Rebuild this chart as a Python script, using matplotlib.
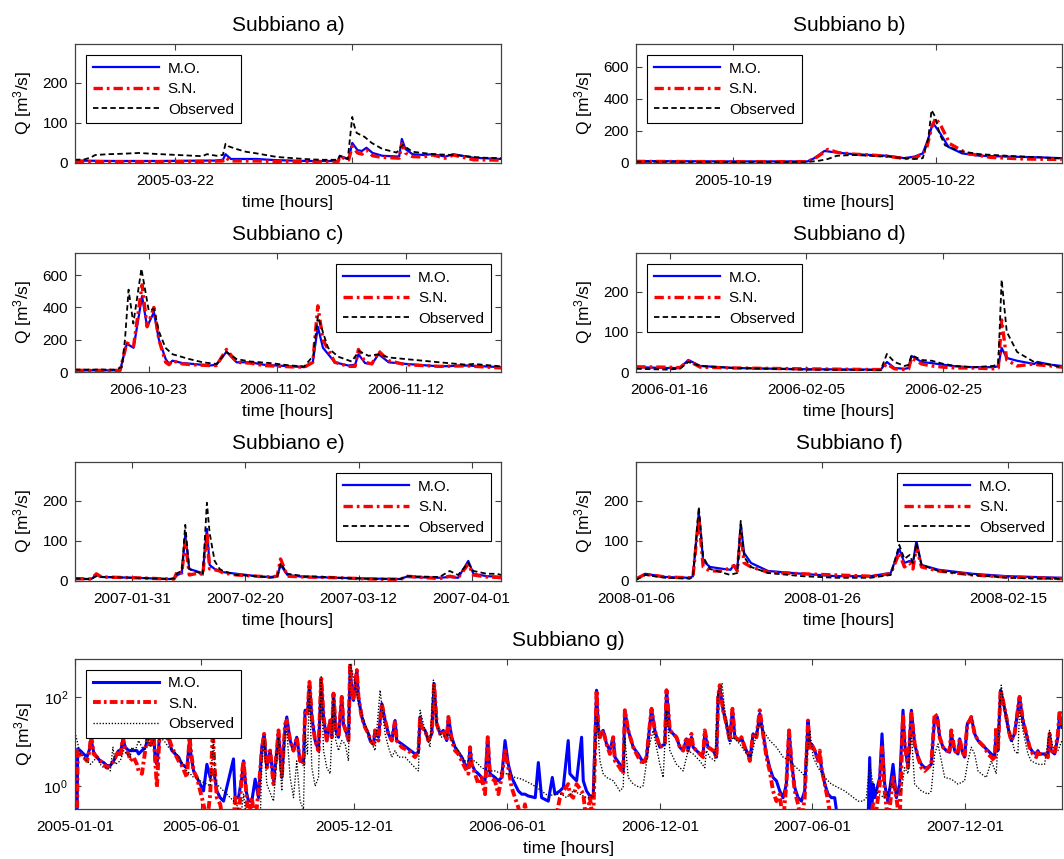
import numpy as np
import pandas as pd
import matplotlib
matplotlib.use("Agg")
import matplotlib.pyplot as plt
from matplotlib.ticker import NullLocator

plt.rcParams['font.family'] = ['Liberation Sans', 'DejaVu Sans']
plt.rcParams['mathtext.fontset'] = 'custom'
plt.rcParams['mathtext.rm'] = 'Liberation Sans'
plt.rcParams['mathtext.it'] = 'Liberation Sans:italic'
plt.rcParams['mathtext.bf'] = 'Liberation Sans:bold'
plt.rcParams['mathtext.sf'] = 'Liberation Sans'

LABELS = ['M.O.', 'S.N.', 'Observed']

# ---------------- Panel a ----------------
a_base = '2005-03-10'
a_xlim = ('2005-03-10 17:00', '2005-04-27 19:00')
a_xticks = ['2005-03-22', '2005-04-11']
a_ymax = 298
a_yticks = [0, 100, 200]
a_obs_day = [0.7, 1.8, 2.5, 3.0, 4.5, 6.0, 7.9, 9.5, 11.3, 13.2, 15.1, 15.6, 16.7, 17.4, 17.7, 18.0, 18.9, 20.0,
             21.2, 23.5, 26.6, 28.5, 30.4, 30.6, 31.1, 31.5, 32.0, 32.2, 32.5, 33.4, 34.2, 35.4, 37.0, 37.5, 37.7,
             38.8, 41.1, 43.4, 44.5, 45.7, 47.0, 48.8]
a_obs_q = [8, 9, 14, 20, 22, 23, 25, 23, 21, 19, 17, 22, 18, 20, 48, 42, 35, 28, 24, 15, 10, 8, 8, 18, 12, 10,
           115, 95, 75, 65, 50, 35, 26, 40, 45, 28, 22, 20, 18, 15, 13, 12]
a_mo_day = [0.7, 5, 10, 15.5, 16.5, 17.4, 17.7, 18.3, 21.2, 23.5, 27, 30.4, 30.6, 31.3, 31.6, 32.0, 32.6, 33.1,
            33.6, 34.3, 35.4, 37.3, 37.6, 38.0, 38.8, 40.0, 41.1, 42.5, 43.4, 45.7, 48.8]
a_mo_q = [6, 5, 5, 6, 6, 8, 22, 10, 10, 7, 5, 5, 18, 12, 10, 50, 32, 30, 38, 25, 18, 16, 60, 35, 22, 20, 22, 16,
          22, 13, 10]
a_sn_day = [0.7, 5, 10, 15.5, 17.4, 17.7, 18.3, 21.2, 23.5, 27, 30.4, 30.6, 31.3, 31.6, 32.0, 32.6, 33.1, 33.6,
            34.3, 35.4, 37.3, 37.6, 38.0, 38.8, 40.0, 41.1, 42.5, 43.4, 45.7, 48.8]
a_sn_q = [4, 3, 3, 4, 5, 13, 5, 5, 4, 3, 3, 16, 10, 8, 42, 25, 22, 32, 18, 14, 12, 48, 25, 16, 15, 20, 12, 20, 8, 7]

# ---------------- Panel b ----------------
b_base = '2005-10-17'
b_xlim = ('2005-10-17 13:40', '2005-10-23 20:30')
b_xticks = ['2005-10-19', '2005-10-22']
b_ymax = 745
b_yticks = [0, 200, 400, 600]
b_obs_day = [0.57, 2, 3.1, 3.28, 3.4, 3.53, 3.78, 4.03, 4.28, 4.53, 4.68, 4.8, 4.88, 4.93, 4.98, 5.05, 5.13, 5.33,
             5.64, 6.04, 6.54, 6.85]
b_obs_q = [8, 6, 6, 15, 25, 45, 50, 45, 40, 30, 25, 30, 150, 330, 290, 180, 110, 75, 55, 45, 35, 28]
b_mo_day = [0.57, 2, 3.1, 3.2, 3.35, 3.53, 3.78, 4.03, 4.28, 4.53, 4.68, 4.8, 4.88, 4.95, 5.05, 5.18, 5.38, 5.64,
            6.04, 6.54, 6.85]
b_mo_q = [12, 10, 10, 30, 75, 65, 55, 50, 45, 30, 40, 60, 150, 250, 190, 100, 60, 45, 40, 35, 30]
b_sn_day = [0.57, 2, 3.1, 3.25, 3.4, 3.55, 3.78, 4.03, 4.28, 4.53, 4.7, 4.85, 4.93, 4.99, 5.07, 5.2, 5.45, 5.8,
            6.3, 6.85]
b_sn_q = [10, 8, 8, 40, 85, 65, 55, 50, 42, 28, 32, 80, 220, 280, 230, 120, 60, 35, 25, 22]

# ---------------- Panel c ----------------
c_base = '2006-10-17'
c_xlim = ('2006-10-17 06:15', '2006-11-19 10:00')
c_xticks = ['2006-10-23', '2006-11-02', '2006-11-12']
c_ymax = 740
c_yticks = [0, 200, 400, 600]
c_obs_day = [0.26, 3.37, 3.90, 4.15, 4.43, 4.80, 5.43, 6.00, 6.40, 6.80, 7.30, 7.85, 9.16, 10.2, 11.27, 12.05,
             12.84, 13.9, 15.48, 17.05, 18.11, 18.8, 19.16, 19.95, 20.74, 21.79, 22.37, 23.1, 23.89, 24.68, 26.0,
             28.63, 30.73, 31.26, 33.42]
c_obs_q = [15, 15, 30, 200, 510, 300, 640, 380, 390, 250, 150, 110, 80, 60, 50, 125, 80, 65, 55, 40, 35, 100,
           345, 150, 95, 65, 130, 100, 110, 90, 80, 60, 45, 50, 35]
c_mod_day = [0.26, 3.77, 4.29, 4.82, 5.48, 5.87, 6.40, 6.79, 7.32, 7.58, 7.85, 8.63, 9.42, 10.74, 11.27, 12.05,
             12.84, 13.9, 14.95, 17.05, 18.11, 18.77, 19.16, 19.56, 20.48, 21.53, 22.06, 22.32, 22.84, 23.37,
             23.89, 24.68, 26.0, 28.63, 30.73, 33.42]
c_mo_q = [10, 10, 175, 150, 470, 280, 370, 200, 80, 50, 70, 55, 50, 40, 45, 125, 60, 60, 45, 35, 30, 60, 280,
          150, 60, 40, 45, 110, 55, 50, 110, 60, 50, 35, 40, 30]
c_sn_q = [10, 10, 180, 160, 540, 280, 400, 200, 60, 45, 70, 50, 45, 40, 40, 140, 60, 55, 40, 32, 30, 60, 410,
          200, 60, 35, 35, 140, 60, 50, 130, 70, 45, 35, 38, 25]

# ---------------- Panel d ----------------
d_base = '2006-01-11'
d_xlim = ('2006-01-11 02:00', '2006-03-14 11:00')
d_xticks = ['2006-01-16', '2006-02-05', '2006-02-25']
d_ymax = 298
d_yticks = [0, 100, 200]
d_day = [0.12, 4.50, 6.51, 7.75, 9.49, 14.49, 24.46, 35.92, 36.82, 37.92, 39.42, 40.0, 40.42, 41.91, 43.40,
         45.15, 46.89, 49.39, 52.38, 53.13, 53.62, 54.37, 55.88, 58.37, 58.87, 60.86, 62.46]
d_obs_q = [8, 6, 8, 25, 15, 10, 6, 5, 45, 25, 15, 18, 42, 30, 28, 20, 15, 12, 15, 20, 230, 100, 50, 25, 22, 18, 12]
d_mo_q = [12, 10, 10, 30, 15, 10, 7, 6, 25, 10, 8, 10, 40, 25, 22, 18, 14, 12, 12, 14, 60, 35, 28, 20, 25, 18, 15]
d_sn_q = [13, 12, 11, 28, 12, 10, 8, 6, 20, 8, 6, 8, 35, 20, 15, 12, 10, 10, 8, 10, 130, 30, 15, 20, 18, 15, 12]

# ---------------- Panel e ----------------
e_base = '2007-01-20'
e_xlim = ('2007-01-20 20:00', '2007-04-06 05:00')
e_xticks = ['2007-01-31', '2007-02-20', '2007-03-12', '2007-04-01']
e_ymax = 298
e_yticks = [0, 100, 200]
e_day = [0.83, 3.71, 4.61, 5.50, 11.48, 17.46, 18.36, 18.96, 19.74, 20.34, 21.05, 22.85, 23.44, 24.17, 24.65,
         25.54, 26.43, 27.03, 29.42, 33.01, 35.42, 36.61, 37.21, 38.41, 41.41, 45.0, 47.39, 53.37, 58.45, 59.35,
         65.33, 67.12, 68.62, 70.42, 71.32, 73.71, 75.5, 76.22]
e_obs_q = [6, 5, 12, 10, 8, 5, 6, 20, 25, 140, 30, 20, 15, 195, 120, 50, 30, 25, 15, 12, 8, 10, 45, 18, 12, 10,
           8, 5, 5, 12, 10, 25, 15, 45, 25, 18, 18, 15]
e_mo_q = [5, 5, 15, 10, 8, 5, 6, 15, 20, 115, 30, 22, 20, 130, 40, 30, 25, 22, 18, 12, 10, 12, 40, 15, 10, 9, 8,
          6, 5, 10, 8, 10, 8, 50, 18, 12, 11, 10]
e_sn_q = [6, 5, 18, 10, 8, 5, 5, 25, 20, 100, 15, 20, 15, 120, 30, 28, 25, 20, 15, 12, 10, 12, 55, 12, 10, 9, 8,
          5, 4, 12, 6, 12, 8, 42, 15, 10, 9, 8]

# ---------------- Panel f ----------------
f_base = '2008-01-06'
f_xlim = ('2008-01-06 00:00', '2008-02-20 19:00')
f_xticks = ['2008-01-06', '2008-01-26', '2008-02-15']
f_ymax = 298
f_yticks = [0, 100, 200]
f_day = [0, 0.99, 3.18, 5.76, 6.12, 6.75, 7.22, 7.95, 9.42, 10.16, 10.53, 10.89, 11.26, 11.62, 12.36, 14.19,
         17.86, 21.52, 25.19, 27.38, 28.30, 28.85, 29.41, 29.77, 30.14, 30.69, 32.52, 36.19, 39.85, 45.79]
f_obs_q = [3, 15, 8, 6, 10, 185, 60, 30, 20, 15, 18, 20, 150, 60, 35, 20, 12, 8, 8, 15, 90, 55, 65, 45, 95, 40,
           25, 15, 8, 5]
f_mo_q = [5, 18, 10, 8, 12, 170, 50, 35, 30, 28, 40, 30, 140, 70, 45, 25, 18, 12, 12, 20, 80, 45, 50, 45, 100,
          40, 28, 18, 12, 8]
f_sn_q = [5, 17, 10, 8, 10, 160, 35, 25, 25, 35, 38, 25, 125, 45, 35, 22, 18, 15, 12, 18, 70, 35, 45, 30, 85, 35,
          25, 15, 10, 6]

# ---------------- Panel g (log scale, whole record) ----------------
g_base = '2005-01-01'
g_xlim = ('2005-01-01', '2008-03-25 12:00')
g_xticks = ['2005-01-01', '2005-06-01', '2005-12-01', '2006-06-01', '2006-12-01', '2007-06-01', '2007-12-01']
g_ylim = (0.306, 726)
g_yticks = [1, 100]
g_yticklabels = ['$10^0$', '$10^2$']
g_day = [
    0.0, 2.4, 3.2, 6.3, 10.3, 14.3, 17.5, 19.1, 22.3, 26.2,
    30.2, 34.2, 38.2, 42.2, 46.1, 52.1, 54.1, 57.3, 60.1, 64.1,
    66.0, 70.0, 74.0, 76.0, 80.0, 83.9, 86.7, 89.9, 93.9, 95.9,
    97.9, 101.1, 103.9, 107.8, 111.8, 115.8, 119.8, 123.8, 127.7, 133.7,
    136.9, 138.5, 141.7, 145.6, 149.6, 153.6, 157.6, 161.6, 164.7, 166.3,
    169.5, 173.5, 177.5, 189.4, 191.4, 195.4, 199.4, 201.4, 204.5, 207.3,
    211.3, 215.3, 219.3, 223.2, 226.0, 229.2, 233.2, 237.2, 241.2, 243.2,
    247.1, 251.1, 253.1, 257.1, 261.1, 265.0, 269.0, 273.0, 275.0, 277.8,
    280.2, 283.0, 287.0, 291.0, 294.2, 297.0, 300.9, 304.9, 306.9, 308.9,
    311.7, 314.9, 318.8, 320.8, 324.8, 326.8, 328.8, 330.8, 332.8, 336.8,
    338.7, 342.7, 346.7, 350.7, 352.7, 356.7, 358.6, 362.6, 366.6, 370.6,
    374.6, 378.5, 382.5, 384.5, 390.5, 398.4, 406.4, 410.4, 412.4, 414.4,
    418.3, 422.3, 426.3, 429.1, 432.3, 436.3, 440.2, 444.2, 446.2, 450.2,
    454.2, 458.1, 462.1, 466.1, 470.1, 472.1, 474.1, 478.0, 482.0, 486.0,
    490.0, 493.2, 496.0, 501.9, 505.9, 509.9, 513.9, 517.8, 521.8, 525.8,
    529.8, 533.8, 537.7, 541.7, 550.0, 553.7, 557.6, 565.6, 570.4, 573.6,
    579.5, 583.5, 589.4, 591.4, 595.4, 599.4, 605.4, 607.4, 611.3, 615.3,
    619.3, 623.3, 625.3, 627.3, 631.2, 635.2, 639.2, 643.2, 645.2, 651.1,
    655.1, 657.1, 661.1, 667.1, 673.0, 679.0, 683.0, 687.0, 689.0, 692.9,
    698.9, 704.9, 706.9, 710.9, 714.8, 718.8, 722.8, 726.8, 730.7, 732.7,
    736.7, 738.7, 742.7, 746.7, 750.6, 752.6, 756.6, 762.6, 766.6, 768.6,
    770.5, 774.5, 778.5, 782.5, 785.7, 788.5, 794.4, 796.4, 800.4, 804.4,
    806.4, 810.3, 814.3, 818.3, 822.3, 826.3, 830.2, 834.2, 838.2, 842.2,
    846.2, 850.1, 853.3, 856.1, 860.1, 864.1, 868.1, 872.0, 876.0, 878.0,
    880.1, 884.0, 888.0, 890.0, 892.0, 896.0, 900.0, 903.9, 907.9, 911.9,
    947.7, 949.7, 951.7, 953.7, 955.7, 961.7, 964.4, 967.6, 971.6, 977.6, 981.6,
    985.5, 989.5, 991.5, 995.5, 999.5, 1003.4, 1007.4, 1011.4, 1015.4, 1019.4,
    1023.3, 1027.3, 1030.5, 1033.3, 1037.3, 1041.3, 1045.2, 1047.2, 1051.2, 1055.2,
    1057.2, 1060.0, 1063.1, 1066.3, 1069.1, 1071.1, 1075.1, 1079.1, 1083.0, 1087.0,
    1091.0, 1095.0, 1099.0, 1100.9, 1102.9, 1106.1, 1108.9, 1112.9, 1115.7, 1118.9,
    1122.8, 1128.8, 1132.8, 1136.8, 1140.8, 1144.7, 1148.7, 1150.7, 1152.7, 1158.7,
    1162.6, 1164.6, 1166.6, 1170.6, 1174.6, 1176.6, 1179.4]
g_sn_q = [
    0.15, 0.15, 6.3, 5.3, 4.5, 3.7, 6.3, 15, 5.3, 4.5,
    3.7, 3.1, 2.6, 2.9, 3.7, 6.3, 4.5, 12.6, 6.3, 5.3,
    3.7, 4.5, 3.1, 2.2, 1.9, 6.3, 12.6, 7.5, 15, 3.7,
    0.93, 15, 12.6, 11.6, 12.6, 7.5, 5.3, 3.7, 2.9, 1.57,
    12.6, 6.3, 2.2, 1.57, 0.78, 0.39, 0.15, 0.66, 18, 3.7,
    0.55, 0.39, 0.15, 0.15, 0.55, 0.15, 1.9, 3.7, 0.78, 0.15,
    0.55, 0.15, 0.78, 6.3, 15, 2.6, 6.3, 1.11, 6.3, 18,
    1.57, 25, 30, 10.6, 6.3, 12.6, 3.7, 3.1, 51, 43,
    222, 36, 10.6, 6.3, 288, 36, 10.6, 30, 12.6, 121,
    18, 12.6, 102, 25, 15, 10.6, 578, 144, 85, 408,
    102, 36, 21, 15, 10.6, 8.9, 18, 10.6, 72, 30,
    15, 10.6, 30, 10.6, 7.5, 6.3, 4.5, 6.3, 36, 21,
    18, 10.6, 15, 204, 25, 15, 18, 10.6, 36, 10.6,
    6.3, 5.3, 3.7, 2.6, 1.9, 7.5, 3.1, 1.9, 1.11, 1.57,
    0.66, 12.6, 1.57, 1.32, 0.66, 1.57, 6.3, 2.6, 0.93, 0.55,
    0.33, 0.15, 0.39, 0.15, 0.15, 0.15, 0.15, 0.15, 0.15, 0.15,
    0.55, 0.78, 1.11, 0.66, 0.55, 1.11, 0.78, 0.66, 0.15, 0.55,
    0.15, 144, 21, 12.6, 18, 8.9, 5.3, 12.6, 3.7, 2.6,
    1.9, 51, 18, 7.5, 4.5, 3.1, 4.5, 25, 55, 18,
    7.5, 8.9, 144, 18, 15, 12.6, 7.5, 6.3, 12.6, 6.3,
    15, 7.5, 6.3, 5.3, 4.5, 18, 7.5, 6.3, 4.5, 102,
    187, 51, 25, 10.6, 55, 12.6, 10.6, 12.6, 7.5, 5.3,
    3.7, 15, 12.6, 51, 15, 4.5, 2.2, 0.78, 0.46, 0.66,
    0.15, 1.11, 18, 3.7, 0.78, 0.39, 0.15, 0.55, 30, 6.3,
    8.9, 6.3, 3.7, 6.3, 2.6, 1.11, 0.46, 0.15, 0.15, 0.15,
    0.15, 0.15, 0.15, 0.43, 0.15, 1.11, 7.5, 0.78, 0.15, 1.57, 0.55,
    0.15, 43, 8.9, 2.6, 43, 8.9, 4.5, 2.6, 2.2, 2.6,
    3.1, 43, 36, 12.6, 7.5, 6.3, 6.3, 18, 6.3, 5.3,
    11.6, 6.3, 4.5, 25, 30, 36, 15, 10.6, 8.9, 7.5,
    5.3, 4.5, 3.7, 21, 6.3, 144, 85, 36, 18, 10.6,
    15, 102, 30, 15, 7.5, 5.3, 4.5, 6.3, 5.3, 5.3,
    4.5, 15, 6.3, 5.3, 15, 51, 21]
g_mo_q = [
    0.15, 0.15, 6.9, 6.3, 5.3, 4.5, 6.9, 11.6, 5.8, 4.5,
    3.7, 3.4, 2.9, 2.9, 3.7, 6.3, 5.3, 11.6, 7.5, 6.3,
    6.3, 6.3, 6.3, 5.3, 6.3, 7.5, 10.6, 12.6, 18, 3.7,
    3.1, 12.6, 12.6, 12.6, 11.6, 6.3, 5.3, 4.5, 3.1, 2.6,
    10.6, 5.3, 2.2, 1.57, 1.11, 0.78, 3.1, 1.57, 2.2, 1.9,
    0.78, 0.55, 0.46, 4.1, 0.55, 0.55, 1.57, 3.7, 0.78, 0.46,
    0.46, 1.44, 0.55, 7.5, 15, 2.6, 6.3, 1.32, 6.3, 16.4,
    1.57, 21, 36, 10.6, 6.3, 12.6, 3.7, 3.4, 51, 43,
    204, 36, 10.6, 6.3, 250, 36, 10.6, 30, 12.6, 121,
    18, 12.6, 102, 25, 15, 10.6, 500, 144, 85, 408,
    102, 36, 21, 15, 10.6, 8.9, 18, 12.6, 72, 30,
    15, 10.6, 30, 10.6, 8.9, 6.9, 5.3, 5.8, 36, 21,
    18, 10.6, 15, 204, 25, 15, 18, 10.6, 36, 12.6,
    7.5, 5.8, 4.5, 3.1, 2.6, 7.5, 3.1, 2.2, 1.9, 1.57,
    1.32, 12.6, 1.9, 1.57, 1.32, 1.57, 10.6, 3.1, 1.57, 1.11,
    0.78, 0.66, 0.66, 0.6, 0.55, 3.4, 0.55, 0.46, 1.57, 0.66,
    0.78, 0.93, 10.6, 1.9, 1.57, 1.32, 12.6, 1.32, 0.78, 0.6,
    0.6, 144, 21, 12.6, 18, 8.9, 6.3, 12.6, 4.5, 3.1,
    2.2, 51, 18, 7.5, 5.3, 3.4, 4.5, 25, 55, 18,
    7.5, 8.9, 144, 18, 15, 12.6, 7.5, 6.3, 11.6, 6.3,
    12.6, 7.5, 6.3, 5.3, 5.3, 15, 7.5, 6.3, 4.5, 102,
    171, 51, 25, 10.6, 55, 12.6, 10.6, 12.6, 7.5, 5.3,
    3.7, 15, 12.6, 43, 15, 5.3, 2.6, 1.57, 1.32, 0.78,
    0.55, 1.11, 18, 3.7, 0.93, 0.55, 0.46, 0.78, 28, 8.9,
    8.9, 6.3, 3.7, 5.3, 2.6, 1.11, 0.66, 0.55, 0.55, 0.15,
    0.15, 4.4, 0.15, 1.11, 0.55, 1.57, 15, 1.11, 0.43, 3.1, 0.55,
    1.11, 51, 8.9, 2.6, 51, 8.9, 4.5, 3.1, 2.6, 2.6,
    3.1, 36, 36, 12.6, 7.5, 6.3, 5.8, 15, 6.3, 5.3,
    11.6, 6.3, 4.5, 25, 30, 36, 15, 10.6, 8.9, 7.5,
    6.3, 5.3, 4.5, 18, 6.3, 144, 85, 36, 18, 10.6,
    15, 102, 30, 15, 7.5, 5.8, 5.3, 6.3, 5.3, 5.3,
    4.5, 15, 6.3, 5.3, 12.6, 43, 21]
g_obs_day = [
    0.0, 2.4, 6.3, 10.3, 14.3, 18.3, 22.3, 26.2, 30.2, 34.2,
    38.2, 42.2, 45.3, 48.1, 54.1, 58.1, 62.1, 66.0, 68.0, 72.0,
    76.0, 80.0, 83.9, 85.9, 89.9, 95.9, 99.9, 103.9, 107.8, 111.8,
    115.8, 121.8, 125.7, 129.7, 133.7, 137.7, 141.7, 145.6, 149.6, 153.6,
    157.6, 161.6, 165.5, 167.5, 169.5, 177.5, 185.4, 193.4, 197.4, 201.4,
    205.4, 221.3, 223.2, 226.0, 229.2, 237.2, 243.2, 247.1, 251.1, 253.1,
    257.1, 261.1, 265.0, 269.0, 273.0, 275.0, 277.8, 280.2, 283.0, 287.0,
    291.0, 294.2, 297.0, 300.9, 304.9, 308.9, 311.7, 314.9, 318.8, 322.8,
    326.8, 328.8, 334.8, 338.7, 342.7, 346.7, 350.7, 356.7, 358.6, 364.6,
    370.6, 374.6, 378.5, 382.5, 386.5, 394.5, 402.4, 406.4, 410.4, 412.4,
    418.3, 424.3, 428.3, 432.3, 438.2, 446.2, 450.2, 458.1, 466.1, 478.0,
    486.0, 494.0, 501.9, 509.9, 517.8, 525.8, 533.8, 545.7, 557.6, 565.6,
    573.6, 581.5, 587.5, 595.4, 603.4, 611.3, 619.3, 624.1, 627.3, 631.2,
    635.2, 643.2, 651.1, 655.1, 657.1, 661.1, 667.1, 675.0, 679.0, 685.0,
    690.9, 694.9, 698.9, 702.9, 706.9, 710.9, 718.8, 726.8, 732.7, 738.7,
    746.7, 752.6, 754.6, 758.6, 764.6, 768.6, 773.3, 776.5, 782.5, 786.5,
    794.4, 802.4, 808.3, 814.3, 818.3, 822.3, 830.3, 838.3, 846.2, 854.1,
    862.1, 870.0, 872.1, 878.1, 882.1, 888.0, 896.0, 903.9, 907.9, 911.9,
    919.9, 927.8, 935.8, 941.8, 945.7, 949.7, 953.7, 959.7, 967.6, 975.6,
    981.6, 987.5, 991.5, 995.5, 999.5, 1003.4, 1011.4, 1019.4, 1023.3, 1027.3,
    1031.3, 1035.3, 1039.3, 1047.2, 1055.2, 1063.1, 1067.1, 1071.1, 1075.1, 1079.1,
    1083.0, 1089.0, 1095.0, 1100.9, 1106.9, 1110.9, 1114.9, 1118.9, 1122.8, 1126.8,
    1128.8, 1132.8, 1138.8, 1142.7, 1150.7, 1158.7, 1164.6, 1168.6, 1174.6, 1179.4]
g_obs_q = [
    16.4, 10.6, 5.3, 4.5, 3.7, 3.1, 3.7, 4.5, 3.1, 2.6,
    2.6, 2.2, 7.5, 3.1, 3.7, 6.3, 5.3, 4.5, 7.5, 6.3,
    10.6, 7.5, 6.3, 15, 7.5, 12.6, 12.6, 11.6, 9.7, 7.5,
    6.3, 5.3, 3.7, 3.1, 2.2, 1.9, 1.57, 1.57, 1.32, 1.21,
    1.11, 1.02, 12.6, 1.5, 1.11, 0.78, 0.55, 0.39, 0.15, 0.66,
    0.15, 0.15, 3.1, 10.6, 1.11, 0.46, 12.6, 0.78, 15, 18,
    1.57, 0.55, 3.7, 0.46, 0.3, 15, 5.3, 171, 2.6, 1.0,
    1.57, 288, 6.3, 2.6, 1.9, 102, 10.6, 6.3, 10.6, 8.9,
    3.7, 578, 204, 72, 43, 25, 15, 7.5, 6.3, 144,
    15, 7.5, 4.5, 6.3, 4.5, 4.5, 3.1, 2.6, 2.2, 51,
    18, 7.5, 243, 25, 12.6, 15, 10.6, 6.3, 3.7, 3.7,
    2.6, 2.2, 2.2, 1.9, 1.9, 1.57, 1.44, 1.11, 0.78, 0.60,
    0.66, 0.66, 0.55, 0.78, 0.66, 0.55, 0.55, 36, 3.7, 1.9,
    1.57, 1.32, 0.78, 0.93, 12.6, 1.57, 1.11, 0.93, 1.02, 6.3,
    18, 7.5, 3.1, 1.57, 51, 6.3, 3.1, 2.2, 6.3, 5.3,
    3.7, 2.6, 6.3, 4.5, 3.7, 121, 204, 51, 8.9, 12.6,
    8.9, 5.3, 4.5, 15, 25, 18, 10.6, 7.5, 4.5, 3.7,
    2.6, 1.9, 1.57, 18, 4.5, 2.6, 1.57, 1.11, 1.02, 0.93,
    0.78, 0.60, 0.46, 0.46, 0.55, 3.1, 1.11, 0.66, 0.55, 1.11,
    0.78, 0.78, 2.6, 1.9, 15, 1.11, 0.78, 0.66, 0.78, 5.3,
    8.9, 3.7, 1.57, 1.44, 1.11, 1.32, 3.7, 7.5, 5.3, 2.2,
    1.9, 1.57, 3.7, 1.9, 187, 51, 21, 12.6, 6.3, 5.3,
    51, 18, 5.3, 3.7, 3.1, 3.1, 18, 7.5, 6.3, 10.6]

# ---------------- styles ----------------
MO_COLOR, SN_COLOR, OBS_COLOR = '#0000ff', '#ff0000', '#000000'
FRAME = '#404040'
FW, FH = 1064, 859

fig = plt.figure(figsize=(10.64, 8.59), dpi=100)


def add_axes_px(left, top, right, bottom):
    return fig.add_axes([left / FW, 1 - bottom / FH, (right - left) / FW, (bottom - top) / FH])


def to_dates(base, days):
    return pd.Timestamp(base) + pd.to_timedelta(np.asarray(days, dtype=float), unit='D')


def finish(ax, title, xlim, xticks):
    ax.set_title(title, fontsize=15, pad=9)
    ax.set_xlim(pd.Timestamp(xlim[0]), pd.Timestamp(xlim[1]))
    ax.set_xticks(pd.to_datetime(xticks))
    ax.set_xticklabels(xticks)
    ax.xaxis.set_minor_locator(NullLocator())
    ax.tick_params(direction='in', top=True, right=True, length=4, width=0.8, color=FRAME,
                   labelsize=11, labelcolor='k')
    ax.tick_params(axis='x', pad=8)
    ax.tick_params(axis='y', pad=5)
    for sp in ax.spines.values():
        sp.set_color(FRAME)
        sp.set_linewidth(0.9)
    ax.set_xlabel('time [hours]', fontsize=12.5, labelpad=5)
    ax.set_ylabel('Q [m$^3$/s]', fontsize=12.5, labelpad=6)


def add_legend(ax, handles, loc, anchor):
    leg = ax.legend(handles, LABELS, fontsize=11, frameon=True, fancybox=False, edgecolor='k',
                    framealpha=1, borderaxespad=0, handlelength=4.3, handletextpad=0.6,
                    labelspacing=0.42, borderpad=0.45, loc=loc, bbox_to_anchor=anchor)
    leg.get_frame().set_linewidth(0.8)


SN_DASH = (0, (2.8, 1.2, 0.8, 1.2))
OBS_DASH = (0, (3.0, 1.8))
UL = ('upper left', (0.026, 0.905))
UR = ('upper right', (0.976, 0.905))

linear_panels = [
    ('Subbiano a)', (75, 43.5, 501, 163), a_base, a_mo_day, a_mo_q, a_sn_day, a_sn_q, a_obs_day, a_obs_q,
     a_xlim, a_xticks, a_ymax, a_yticks, UL),
    ('Subbiano b)', (636, 43.5, 1062, 163), b_base, b_mo_day, b_mo_q, b_sn_day, b_sn_q, b_obs_day, b_obs_q,
     b_xlim, b_xticks, b_ymax, b_yticks, UL),
    ('Subbiano c)', (75, 252.5, 501, 372), c_base, c_mod_day, c_mo_q, c_mod_day, c_sn_q, c_obs_day, c_obs_q,
     c_xlim, c_xticks, c_ymax, c_yticks, UR),
    ('Subbiano d)', (636, 252.5, 1062, 372), d_base, d_day, d_mo_q, d_day, d_sn_q, d_day, d_obs_q,
     d_xlim, d_xticks, d_ymax, d_yticks, UL),
    ('Subbiano e)', (75, 461.5, 501, 581), e_base, e_day, e_mo_q, e_day, e_sn_q, e_day, e_obs_q,
     e_xlim, e_xticks, e_ymax, e_yticks, UR),
    ('Subbiano f)', (636, 461.5, 1062, 581), f_base, f_day, f_mo_q, f_day, f_sn_q, f_day, f_obs_q,
     f_xlim, f_xticks, f_ymax, f_yticks, UR),
]

for (title, box, base, mo_d, mo_q, sn_d, sn_q, ob_d, ob_q, xlim, xticks, ymax, yticks, lg) in linear_panels:
    ax = add_axes_px(*box)
    h1, = ax.plot(to_dates(base, mo_d), mo_q, color=MO_COLOR, lw=1.6, solid_joinstyle='round')
    h2, = ax.plot(to_dates(base, sn_d), sn_q, color=SN_COLOR, lw=2.4, linestyle=SN_DASH)
    h3, = ax.plot(to_dates(base, ob_d), ob_q, color=OBS_COLOR, lw=1.3, linestyle=OBS_DASH)
    ax.set_ylim(0, ymax)
    ax.set_yticks(yticks)
    ax.yaxis.set_minor_locator(NullLocator())
    finish(ax, title, xlim, xticks)
    add_legend(ax, [h1, h2, h3], *lg)

# bottom, log-scale panel
axg = add_axes_px(75, 659, 1062, 809)
g1, = axg.plot(to_dates(g_base, g_day), g_mo_q, color=MO_COLOR, lw=2.2)
g2, = axg.plot(to_dates(g_base, g_day), g_sn_q, color=SN_COLOR, lw=2.8, linestyle=(0, (2.0, 0.8, 0.7, 0.8)))
g3, = axg.plot(to_dates(g_base, g_obs_day), g_obs_q, color=OBS_COLOR, lw=0.95, linestyle=(0, (1.0, 1.3)))
axg.set_yscale('log')
axg.set_ylim(*g_ylim)
axg.set_yticks(g_yticks)
axg.set_yticklabels(g_yticklabels)
axg.yaxis.set_minor_locator(NullLocator())
finish(axg, 'Subbiano g)', g_xlim, g_xticks)
add_legend(axg, [g1, g2, g3], 'upper left', (0.0114, 0.93))

fig.savefig('out.png', dpi=100)
